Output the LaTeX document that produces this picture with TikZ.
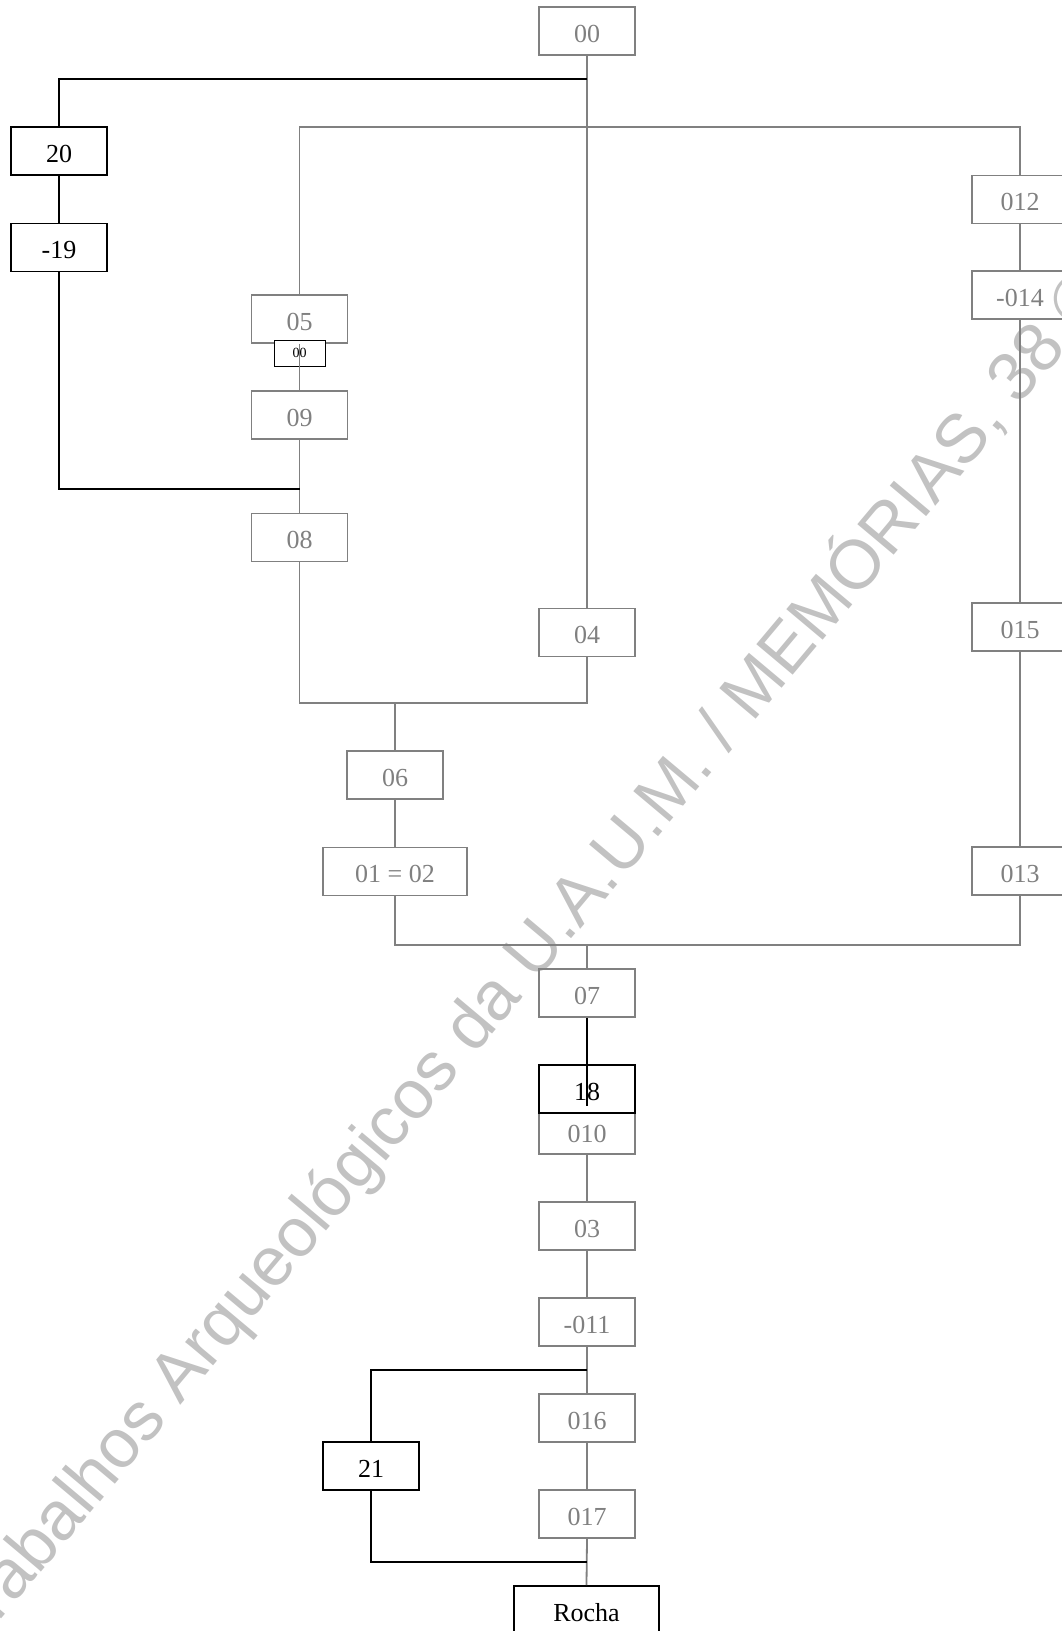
\documentclass[tikz,border=0pt]{standalone}
\usepackage{fontspec}
\setmainfont{Liberation Serif}
\newfontfamily\wmfont{Liberation Sans}
\definecolor{lg}{RGB}{128,128,128}
\definecolor{wmc}{RGB}{194,194,194}
\begin{document}
\begin{tikzpicture}[x=1pt,y=-1pt,
  greybox/.style={draw=lg, line width=1.8pt, text=lg, rectangle, inner sep=0pt,
    minimum width=96pt, minimum height=48pt, font=\fontsize{26}{30}\selectfont,
    text height=22.6pt, text depth=0pt},
  darkbox/.style={greybox, draw=black, text=black, line width=1.7pt},
  greyline/.style={draw=lg, line width=1.8pt},
  darkline/.style={draw=black, line width=1.7pt},
]
\useasboundingbox (0,0) rectangle (1062,1631);
\clip (0,0) rectangle (1062,1631);

% watermark
\node[rotate=50, anchor=base west, text=wmc, inner sep=0pt,
  font=\wmfont\fontsize{69}{80}\selectfont] (wm) at (-27,1653)
  {Trabalhos Arqueológicos da U.A.U.M. / MEMÓRIAS, 38 ©};

% boxes
\node[greybox] (n00) at (587,31) {00};
\node[darkbox] (n20) at (59,151) {20};
\node[darkbox] (n19) at (59,247.5) {-19};
\node[greybox] (n05) at (299.5,319) {05};
\node[draw=black, line width=1pt, fill=white, rectangle, inner sep=0pt,
  minimum width=51pt, minimum height=26pt, font=\fontsize{14}{16}\selectfont] (n00s) at (299.5,353) {00};
\node[greybox] (n09) at (299.5,415) {09};
\node[greybox] (n08) at (299.5,537.5) {08};
\node[greybox] (n04) at (587,632.5) {04};
\node[greybox] (n06) at (395,775) {06};
\node[greybox, minimum width=144pt] (n0102) at (395,871.5) {01 = 02};
\node[greybox] (n012) at (1020,199.5) {012};
\node[greybox] (n014) at (1020,295) {-014};
\node[greybox] (n015) at (1020,627) {015};
\node[greybox] (n013) at (1020,871) {013};
\node[greybox] (n07) at (587,993) {07};
\node[greybox, minimum height=41pt, text height=17.6pt] (n010) at (587,1133.5) {010};
\node[darkbox, line width=2.2pt] (n18) at (587,1089) {18};
\node[greybox] (n03) at (587,1226) {03};
\node[greybox] (n011) at (587,1322) {-011};
\node[greybox] (n016) at (587,1418) {016};
\node[greybox] (n017) at (587,1514) {017};
\node[darkbox] (n21) at (371,1466) {21};
\node[darkbox, minimum width=145pt] (rocha) at (586.5,1610) {Rocha};

% junctions
\coordinate (ja) at (587,79);
\coordinate (jt) at (587,127);
\coordinate (jc) at (299.5,489);
\coordinate (jm) at (395,703);
\coordinate (jn) at (587,945);
\coordinate (j18) at (587,1106);
\coordinate (jd) at (587,1370);
\coordinate (je) at (587,1562);

% grey connectors
\draw[greyline] (n00.south) -- (n04.north);
\draw[greyline] (n05.north) |- (jt) -| (n012.north);
\draw[greyline] (n05.south) -- (n09.north);
\draw[greyline] (n09.south) -- (n08.north);
\draw[greyline] (n08.south) |- (jm) -| (n04.south);
\draw[greyline] (jm) -- (n06.north);
\draw[greyline] (n06.south) -- (n0102.north);
\draw[greyline] (n0102.south) |- (jn) -| (n013.south);
\draw[greyline] (jn) -- (n07.north);
\draw[greyline] (n012.south) -- (n014.north);
\draw[greyline] (n014.south) -- (n015.north);
\draw[greyline] (n015.south) -- (n013.north);
\draw[greyline] (n010.south) -- (n03.north);
\draw[greyline] (n03.south) -- (n011.north);
\draw[greyline] (n011.south) -- (n016.north);
\draw[greyline] (n016.south) -- (n017.north);
\draw[greyline] (n017.south) -- (rocha.north);

% black connectors
\draw[darkline] (ja) -| (n20.north);
\draw[darkline] (n20.south) -- (n19.north);
\draw[darkline] (n19.south) |- (jc);
\draw[darkline] (n07.south) -- (j18);
\draw[darkline] (jd) -| (n21.north);
\draw[darkline] (n21.south) |- (je);
\end{tikzpicture}
\end{document}
